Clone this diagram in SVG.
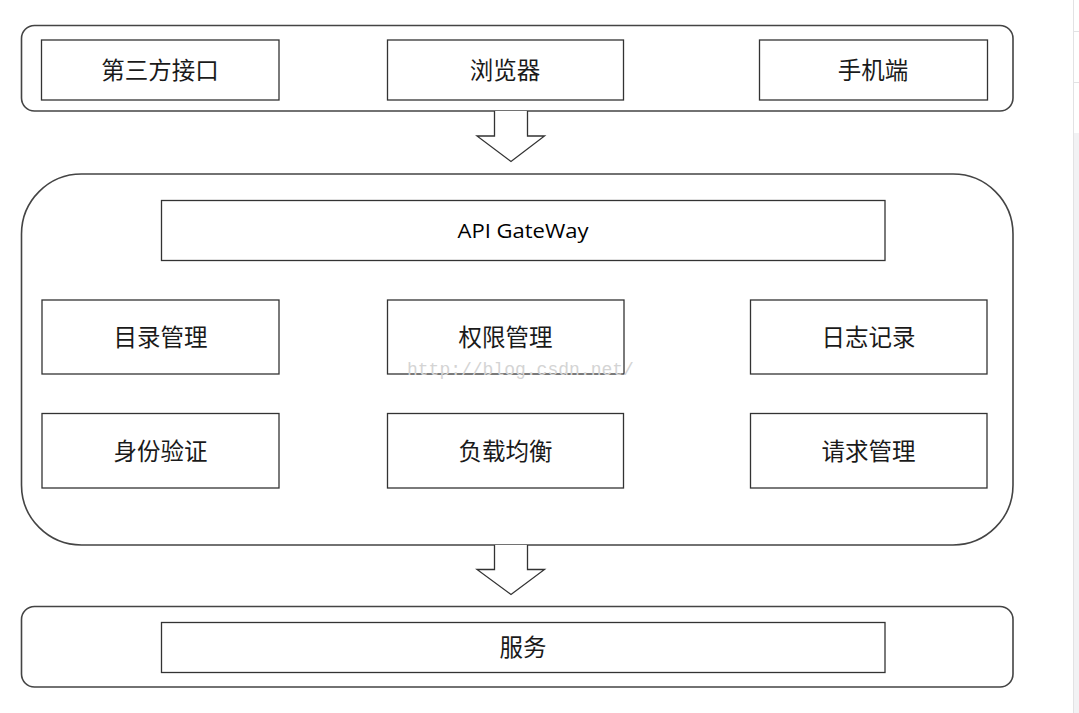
<svg xmlns="http://www.w3.org/2000/svg" width="1079" height="713" viewBox="0 0 1079 713">
<style>
.cont{fill:#fff;stroke:#444;stroke-width:1.6}
.box{fill:#fff;stroke:#333;stroke-width:1.3}
.lbl{font-family:"Noto Sans CJK SC","Microsoft YaHei",sans-serif;font-size:23.5px;fill:#1a1a1a;text-anchor:middle;dominant-baseline:central}
.en{font-family:"Open Sans","Liberation Sans",sans-serif;font-size:20.5px;fill:#000;text-anchor:middle;dominant-baseline:central}
.arrow{fill:#fff;stroke:#333;stroke-width:1.3;stroke-linejoin:miter}
.wm{font-family:"Liberation Mono",monospace;font-size:18px;fill:#d4d4d4}
</style>
<rect x="0" y="0" width="1079" height="713" fill="#fff"/>
<g id="ui-edge">
<rect x="1074" y="133" width="5" height="580" fill="#f2f2f4"/>
<line x1="1073.5" y1="0" x2="1073.5" y2="713" stroke="#e2e2e4" stroke-width="1"/>
<line x1="1073" y1="31.5" x2="1079" y2="31.5" stroke="#e2e2e4" stroke-width="1"/>
<line x1="1073" y1="82.5" x2="1079" y2="82.5" stroke="#e2e2e4" stroke-width="1"/>
</g>
<g id="client-layer">
<rect class="cont" x="21.5" y="25.5" width="991.5" height="85.5" rx="13" ry="13"/>
</g>
<g id="gateway-layer">
<rect class="cont" x="21.5" y="174" width="991.5" height="371" rx="60" ry="60"/>
</g>
<g id="service-layer">
<rect class="cont" x="21.5" y="606.5" width="991.5" height="80.5" rx="13" ry="13"/>
</g>
<g id="connectors">
<path class="arrow" d="M494.5,111 V136 H477 L511,161.5 L544.5,136 H527.5 V111"/>
<path class="arrow" d="M494.5,545 V569.5 H477 L511,594.5 L544.5,569.5 H527.5 V545"/>
</g>
<g id="n-third">
<rect class="box" x="41.5" y="40" width="237.5" height="60"/>
<text class="lbl" x="160" y="69">第三方接口</text>
</g>
<g id="n-browser">
<rect class="box" x="387.5" y="40" width="236" height="60"/>
<text class="lbl" x="505" y="69">浏览器</text>
</g>
<g id="n-mobile">
<rect class="box" x="759.5" y="40" width="228" height="60"/>
<text class="lbl" x="873" y="69">手机端</text>
</g>
<g id="n-api">
<rect class="box" x="161.5" y="200.5" width="723.5" height="60"/>
<text class="en" x="523" y="230" textLength="131" lengthAdjust="spacingAndGlyphs">API GateWay</text>
</g>
<g id="n-catalog">
<rect class="box" x="42" y="300" width="237" height="74"/>
<text class="lbl" x="160.5" y="336">目录管理</text>
</g>
<g id="n-perm">
<rect class="box" x="387.5" y="300" width="236.5" height="74"/>
<text class="lbl" x="505.5" y="336">权限管理</text>
</g>
<g id="n-log">
<rect class="box" x="750.5" y="300" width="236.5" height="74"/>
<text class="lbl" x="868.5" y="336">日志记录</text>
</g>
<g id="n-auth">
<rect class="box" x="42" y="413.5" width="237" height="74.5"/>
<text class="lbl" x="160.5" y="450">身份验证</text>
</g>
<g id="n-lb">
<rect class="box" x="387.5" y="413.5" width="236" height="74.5"/>
<text class="lbl" x="505.5" y="450">负载均衡</text>
</g>
<g id="n-req">
<rect class="box" x="750.5" y="413.5" width="236.5" height="74.5"/>
<text class="lbl" x="868.5" y="450">请求管理</text>
</g>
<g id="n-service">
<rect class="box" x="161.5" y="622.5" width="723.5" height="50"/>
<text class="lbl" x="523" y="646">服务</text>
</g>
<text class="wm" x="407" y="375">http://blog.csdn.net/</text>
</svg>
